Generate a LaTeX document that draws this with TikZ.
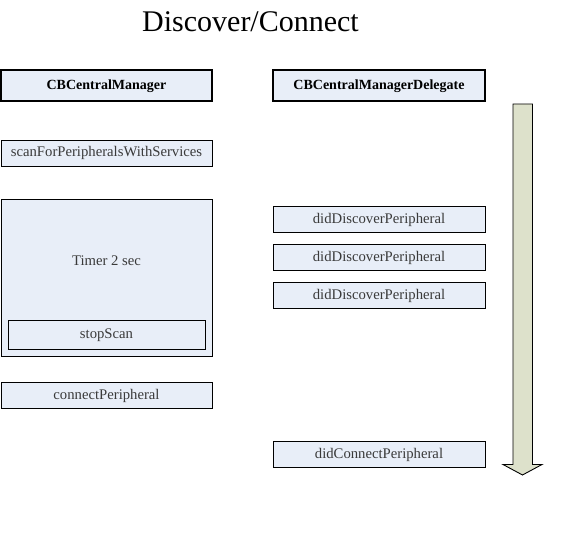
\documentclass[tikz,border=0pt]{standalone}
\usepackage{fontspec}
\setmainfont{Liberation Serif}
\definecolor{boxfill}{HTML}{E8EEF8}
\definecolor{arrowfill}{HTML}{DDE1CB}
\definecolor{txtgray}{HTML}{3A3A3A}

\begin{document}
\begin{tikzpicture}[x=1pt, y=-1pt, font=\fontsize{14.7}{16}\selectfont,
                    call/.style={draw, fill=boxfill, text=txtgray, minimum width=211pt, minimum height=26pt, inner sep=0pt,
                                 text height=11pt, text depth=3pt, line width=0.9pt},
                    classbox/.style={call, text=black, font=\fontsize{14}{16}\selectfont\bfseries, minimum height=31pt, line width=2pt}]
                    \useasboundingbox (0,0) rectangle (563,535);
                    \node[anchor=base, font=\fontsize{30}{32}\selectfont] (title) at (250.5,32) {Discover/Connect};

                    % left column
                    \node[classbox] (manager) at (106.5,85.5) {CBCentralManager};
                    \node[call] (scan) at (106.5,153) {scanForPeripheralsWithServices};
                    \node[call, minimum height=157pt] (timer) at (106.5,277.5) {};
                    \node[text=txtgray, anchor=base] (timerlabel) at (106.5,265) {Timer 2 sec};
                    \node[call, minimum width=197pt, minimum height=29pt] (stop) at (106.5,334.5) {stopScan};
                    \node[call] (connect) at (106.5,395) {connectPeripheral};

                    % right column
                    \node[classbox, minimum width=212pt] (delegate) at (379,85.5) {CBCentralManagerDelegate};
                    \node[call, minimum width=212pt] (discoverA) at (379,219) {didDiscoverPeripheral};
                    \node[call, minimum width=212pt] (discoverB) at (379,257) {didDiscoverPeripheral};
                    \node[call, minimum width=212pt] (discoverC) at (379,295) {didDiscoverPeripheral};
                    \node[call, minimum width=212pt] (connected) at (379,454) {didConnectPeripheral};

                    % time arrow
                    \draw[line width=0.9pt, fill=arrowfill] (513,104) -- (532.5,104) -- (532.5,464.5) -- (542,464.5)
                        -- (522.5,475) -- (503,464.5) -- (513,464.5) -- cycle;
                \end{tikzpicture}
\end{document}
